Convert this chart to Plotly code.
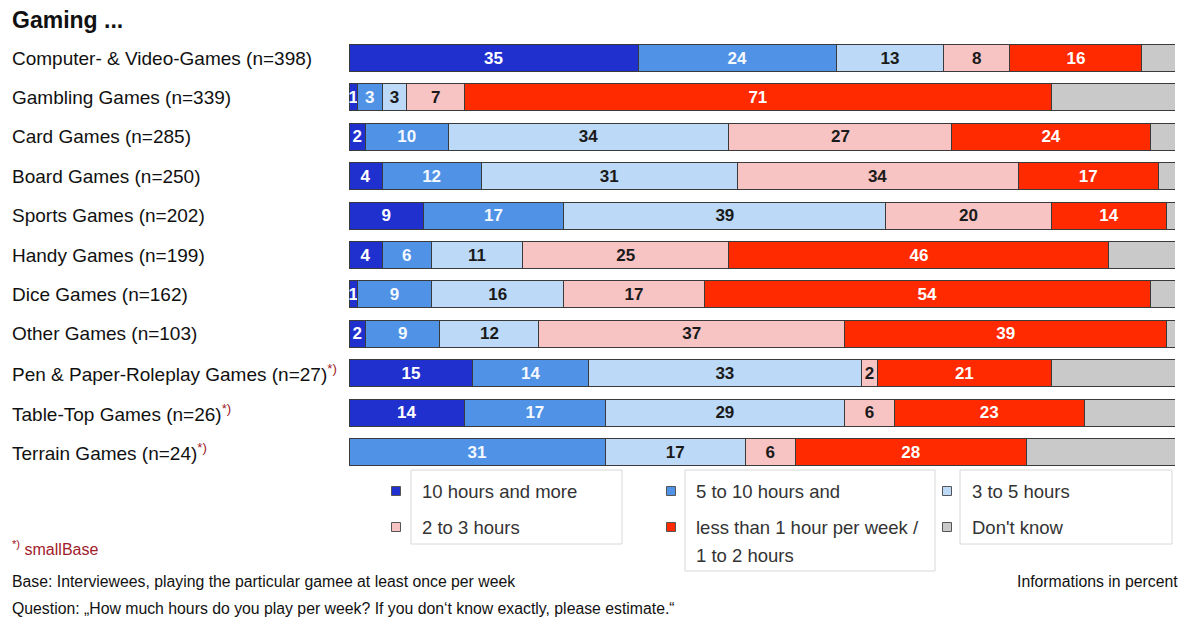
import plotly.graph_objects as go

W, H = 1189, 619

# Survey categories (top to bottom) and small-base flags
categories = [
    "Computer- & Video-Games (n=398)",
    "Gambling Games (n=339)",
    "Card Games (n=285)",
    "Board Games (n=250)",
    "Sports Games (n=202)",
    "Handy Games (n=199)",
    "Dice Games (n=162)",
    "Other Games (n=103)",
    "Pen & Paper-Roleplay Games (n=27)",
    "Table-Top Games (n=26)",
    "Terrain Games (n=24)",
]
small_base = [False, False, False, False, False, False, False, False, True, True, True]

# Shares in percent per answer
h10_more = [35, 1, 2, 4, 9, 4, 1, 2, 15, 14, None]
h5_10 = [24, 3, 10, 12, 17, 6, 9, 9, 14, 17, 31]
h3_5 = [13, 3, 34, 31, 39, 11, 16, 12, 33, 29, 17]
h2_3 = [8, 7, 27, 34, 20, 25, 17, 37, 2, 6, 6]
h_less2 = [16, 71, 24, 17, 14, 46, 54, 39, 21, 23, 28]
dont_know = [4, 15, 3, 2, 1, 8, 3, 1, 15, 11, 18]

series = [
    ("10 hours and more", h10_more, "#1f30cf", "white", True),
    ("5 to 10 hours and", h5_10, "#4f92e6", "#f4f8ff", True),
    ("3 to 5 hours", h3_5, "#bcd9f7", "#1a1a1a", True),
    ("2 to 3 hours", h2_3, "#f7c3c3", "#1a1a1a", True),
    ("less than 1 hour per week / 1 to 2 hours", h_less2, "#ff2a00", "white", True),
    ("Don't know", dont_know, "#c9c9c9", "#1a1a1a", False),
]

FONT = "Liberation Sans, Arial, sans-serif"


def px(x):
    return x / W


def py(y):
    return 1 - y / H


fig = go.Figure()
for name, vals, color, tcolor, labelled in series:
    fig.add_trace(go.Bar(
        y=categories,
        x=vals,
        name=name,
        orientation="h",
        marker=dict(color=color, line=dict(color="#3a3a3a", width=1)),
        text=[("" if v is None else f"<b>{v}</b>") for v in vals] if labelled else None,
        textposition="inside" if labelled else "none",
        insidetextanchor="middle",
        textangle=0,
        constraintext="none",
        textfont=dict(family=FONT, size=17, color=tcolor),
        hoverinfo="x+name",
    ))

# Row geometry: first row centre at 58px, pitch 39.4px
row0, pitch = 58.0, 39.4
n = len(categories)
top_px = row0 - pitch / 2
bot_px = row0 + pitch * (n - 1) + pitch / 2

fig.update_layout(
    width=W,
    height=H,
    margin=dict(l=0, r=0, t=0, b=0),
    paper_bgcolor="white",
    plot_bgcolor="white",
    barmode="stack",
    bargap=0.31,
    showlegend=False,
    xaxis=dict(domain=[px(349), px(1175)], range=[0, 100], visible=False, fixedrange=True),
    yaxis=dict(domain=[py(bot_px), py(top_px)], autorange="reversed", visible=False,
               categoryorder="array", categoryarray=categories),
)

annotations = []
# Title
annotations.append(dict(text="<b>Gaming ...</b>", x=px(10), y=py(20), xref="paper", yref="paper",
                        xanchor="left", yanchor="middle", showarrow=False,
                        font=dict(family=FONT, size=23, color="#111")))

# Category labels, left aligned
for cat, sb in zip(categories, small_base):
    txt = cat
    if sb:
        txt += "<span style='color:#a0202a'><sup>*)</sup></span>"
    annotations.append(dict(text=txt, x=px(10), y=cat, xref="paper", yref="y",
                            xanchor="left", yanchor="middle", showarrow=False,
                            font=dict(family=FONT, size=19, color="#111")))

# Legend boxes
shapes = []
for x0, y0, x1, y1 in [(411, 470, 622, 544), (685, 470, 935, 571), (960, 470, 1172, 544)]:
    shapes.append(dict(type="rect", xref="paper", yref="paper",
                       x0=px(x0), x1=px(x1), y0=py(y1), y1=py(y0),
                       line=dict(color="#d8d8d8", width=1), fillcolor="white", layer="below"))

legend_items = [
    (396, 491, 0, ["10 hours and more"], 420),
    (396, 527, 3, ["2 to 3 hours"], 420),
    (671, 491, 1, ["5 to 10 hours and"], 694),
    (671, 527, 4, ["less than 1 hour per week /", "1 to 2 hours"], 694),
    (947, 491, 2, ["3 to 5 hours"], 970),
    (947, 527, 5, ["Don't know"], 970),
]
for sx, sy, idx, lines, tx in legend_items:
    color = series[idx][2]
    shapes.append(dict(type="rect", xref="paper", yref="paper",
                       x0=px(sx - 4.5), x1=px(sx + 4.5), y0=py(sy + 4.5), y1=py(sy - 4.5),
                       line=dict(color="#555", width=1), fillcolor=color))
    for k, line in enumerate(lines):
        annotations.append(dict(text=line, x=px(tx), y=py(sy + 28 * k), xref="paper", yref="paper",
                                xanchor="left", yanchor="middle", align="left", showarrow=False,
                                font=dict(family=FONT, size=18.5, color="#333")))

# Footnotes
annotations.append(dict(text="<sup>*)</sup> smallBase",
                        x=px(10), y=py(548), xref="paper", yref="paper",
                        xanchor="left", yanchor="middle", showarrow=False,
                        font=dict(family=FONT, size=16, color="#a0202a")))
annotations.append(dict(text="Base: Interviewees, playing the particular gamee at least once per week",
                        x=px(10), y=py(581), xref="paper", yref="paper",
                        xanchor="left", yanchor="middle", showarrow=False,
                        font=dict(family=FONT, size=15.8, color="#111")))
annotations.append(dict(text="Informations in percent",
                        x=px(1180), y=py(581), xref="paper", yref="paper",
                        xanchor="right", yanchor="middle", showarrow=False,
                        font=dict(family=FONT, size=15.8, color="#111")))
annotations.append(dict(text="Question: „How much hours do you play per week? If you don‘t know exactly, please estimate.“",
                        x=px(10), y=py(608), xref="paper", yref="paper",
                        xanchor="left", yanchor="middle", showarrow=False,
                        font=dict(family=FONT, size=15.8, color="#111")))

fig.update_layout(annotations=annotations, shapes=shapes)

fig.write_html("out.html")
